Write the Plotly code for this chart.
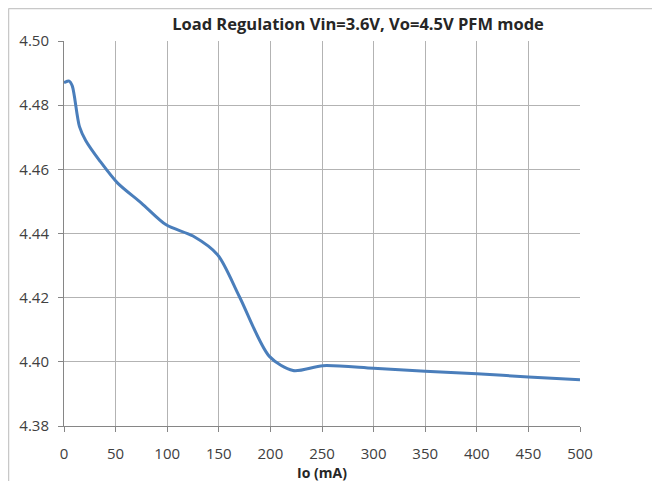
import plotly.graph_objects as go

# Load regulation, Vin=3.6V, Vo=4.5V, PFM mode
io_ma = [0, 5, 8, 15, 21, 35, 52, 75, 99, 125, 149, 170, 199, 222, 251, 300, 350, 400, 450, 500]
vout = [4.4870, 4.4875, 4.4860, 4.4733, 4.4690, 4.4625, 4.4557, 4.4495, 4.4427, 4.4392, 4.4333, 4.4203,
        4.4017, 4.3973, 4.3988, 4.3980, 4.3971, 4.3963, 4.3953, 4.3944]

x_ticks = [0, 50, 100, 150, 200, 250, 300, 350, 400, 450, 500]
y_ticks = [4.38, 4.40, 4.42, 4.44, 4.46, 4.48, 4.50]

FONT = "Open Sans"
GRID = "#b3b3b3"

# the page puts the figure 8px in from the top-left corner
L, R, T, B = 56, 88, 33, 63
W, H = 660, 481
pw, ph = W - L - R, H - T - B

fig = go.Figure()
fig.add_trace(
    go.Scatter(
        x=io_ma,
        y=vout,
        mode="lines",
        line=dict(color="#4a7ebb", width=3, shape="spline", smoothing=0.8),
        showlegend=False,
    )
)

frame_x = -(L - 0.5) / pw
frame_y = 1 + (T - 0.5) / ph
fig.update_layout(
    width=W,
    height=H,
    paper_bgcolor="white",
    plot_bgcolor="white",
    margin=dict(l=L, r=R, t=T, b=B),
    font=dict(family=FONT, size=15, color="#404040"),
    title=dict(
        text="<b>Load Regulation Vin=3.6V, Vo=4.5V PFM mode</b>",
        x=350 / W,
        xanchor="center",
        y=1 - 16 / H,
        yanchor="middle",
        font=dict(family=FONT, size=16.5, color="#262626"),
    ),
    shapes=[
        dict(type="line", xref="paper", yref="paper", x0=frame_x, x1=1.3, y0=frame_y, y1=frame_y,
             line=dict(color="#c8c8c8", width=1.5)),
        dict(type="line", xref="paper", yref="paper", x0=frame_x, x1=frame_x, y0=frame_y, y1=-0.3,
             line=dict(color="#c8c8c8", width=1.5)),
    ],
)

fig.update_xaxes(
    range=[0, 500],
    tickvals=x_ticks,
    ticks="outside",
    ticklen=5,
    tickcolor="#868686",
    ticklabelstandoff=9,
    showline=True,
    linecolor="#868686",
    showgrid=True,
    gridcolor=GRID,
    zeroline=False,
    title=dict(text="<b>Io (mA)</b>", standoff=0, font=dict(family=FONT, size=14, color="#262626")),
)
fig.update_yaxes(
    range=[4.38, 4.50],
    tickvals=y_ticks,
    tickformat=".2f",
    ticks="outside",
    ticklen=5,
    tickcolor="#868686",
    ticklabelstandoff=6,
    showline=True,
    linecolor="#868686",
    showgrid=True,
    gridcolor=GRID,
    zeroline=False,
)

fig.write_html("out.html")
